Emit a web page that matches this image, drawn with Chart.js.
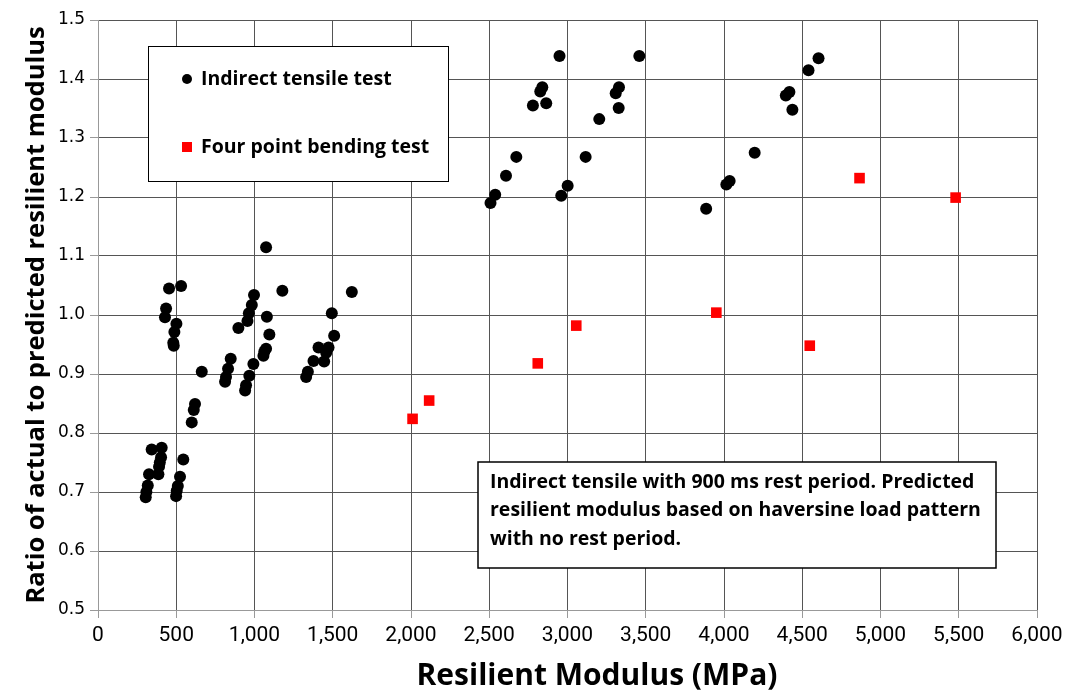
<!DOCTYPE html>
<html>
<head>
<meta charset="utf-8">
<script src="https://cdn.jsdelivr.net/npm/chart.js@4.4.1/dist/chart.umd.min.js"></script>
<style>
html, body { margin: 0; padding: 0; background: #fff; }
</style>
</head>
<body>
<canvas id="modulusChart" width="1069" height="694"></canvas>
<script>
// Indirect tensile test points (resilient modulus MPa, ratio)
var itModulus = [454, 531, 435, 428, 501, 488, 481, 484, 1074, 1178, 1622, 997, 983, 964, 955, 897,
    1079, 1095, 1074, 1063, 1057, 848, 831, 818, 812, 993, 967, 946, 940, 1494, 1509, 1409, 1473,
    1458, 1445, 1377, 1341, 1330, 663, 620, 612, 599, 343, 407, 403, 390, 386, 326, 545, 524, 510,
    503, 499, 318, 309, 305, 395,
    2949, 3459, 2839, 2826, 2779, 2864, 3329, 3308, 3327, 3203, 2673, 2607, 2538, 2508, 3116, 3001,
    2960, 4604, 4540, 4418, 4395, 4437, 4196, 4036, 4015, 3886];
var itRatio = [1.045, 1.049, 1.011, 0.996, 0.985, 0.971, 0.953, 0.948, 1.115, 1.041, 1.039, 1.034,
    1.017, 1.003, 0.990, 0.978, 0.997, 0.967, 0.943, 0.938, 0.931, 0.926, 0.909, 0.895, 0.887, 0.917,
    0.897, 0.881, 0.872, 1.003, 0.965, 0.945, 0.945, 0.936, 0.921, 0.922, 0.904, 0.895, 0.904, 0.849,
    0.839, 0.818, 0.772, 0.775, 0.759, 0.743, 0.730, 0.730, 0.755, 0.726, 0.710, 0.702, 0.693, 0.711,
    0.700, 0.691, 0.750,
    1.439, 1.439, 1.386, 1.379, 1.355, 1.359, 1.386, 1.376, 1.351, 1.332, 1.268, 1.236, 1.204, 1.190,
    1.268, 1.219, 1.202, 1.435, 1.415, 1.378, 1.372, 1.348, 1.275, 1.227, 1.221, 1.180];

// Four point bending test points
var fpModulus = [2010, 2116, 2810, 3056, 3951, 4548, 4866, 5480];
var fpRatio = [0.824, 0.855, 0.918, 0.982, 1.004, 0.948, 1.232, 1.199];

var seriesNames = ['Indirect tensile test', 'Four point bending test'];
var xTitle = 'Resilient Modulus (MPa)';
var yTitle = 'Ratio of actual to predicted resilient modulus';
var noteLines = ['Indirect tensile with 900 ms rest period. Predicted',
    'resilient modulus based on haversine load pattern',
    'with no rest period.'];

function toPoints(xs, ys) {
    return xs.map(function(x, i) { return { x: x, y: ys[i] }; });
}

var boldFont = '"Open Sans", "DejaVu Sans", sans-serif';
var gridColor = '#555';

// draws the x title, the boxed legend and the note box
var boxesPlugin = {
    id: 'boxes',
    afterDraw: function(chart) {
        var ctx = chart.ctx;
        ctx.save();
        // x axis title (sits a bit right of the plot centre in the original)
        ctx.fillStyle = '#000';
        ctx.font = 'bold 30px ' + boldFont;
        ctx.textAlign = 'center';
        ctx.textBaseline = 'middle';
        ctx.fillText(xTitle, 597, 676);

        // legend box
        ctx.fillStyle = '#fff';
        ctx.fillRect(148, 46, 300, 135);
        ctx.strokeStyle = '#000';
        ctx.lineWidth = 1;
        ctx.strokeRect(148.5, 46.5, 300, 135);

        var ds = chart.data.datasets;
        ctx.fillStyle = ds[0].backgroundColor;
        ctx.beginPath();
        ctx.arc(187, 79, 5, 0, Math.PI * 2);
        ctx.fill();
        ctx.fillStyle = ds[1].backgroundColor;
        ctx.fillRect(182, 142, 10, 10);

        ctx.fillStyle = '#000';
        ctx.font = 'bold 19.5px ' + boldFont;
        ctx.textAlign = 'left';
        ctx.fillText(ds[0].label, 201, 79);
        ctx.fillText(ds[1].label, 201, 147);

        // note box
        ctx.fillStyle = '#fff';
        ctx.fillRect(478, 462, 518, 106);
        ctx.lineWidth = 1.5;
        ctx.strokeRect(478, 462, 518, 106);
        ctx.fillStyle = '#000';
        noteLines.forEach(function(line, i) {
            ctx.fillText(line, 490, 482 + i * 28.5);
        });
        ctx.restore();
    }
};

var ctx = document.getElementById('modulusChart').getContext('2d');
var modulusChart = new Chart(ctx, {
    type: 'scatter',
    data: {
        datasets: [{
            label: seriesNames[0],
            data: toPoints(itModulus, itRatio),
            backgroundColor: '#000',
            borderColor: '#000',
            pointStyle: 'circle',
            pointRadius: 6,
            borderWidth: 0
        }, {
            label: seriesNames[1],
            data: toPoints(fpModulus, fpRatio),
            backgroundColor: '#ff0000',
            borderColor: '#ff0000',
            pointStyle: 'rect',
            pointRadius: 7.5,
            borderWidth: 0
        }]
    },
    options: {
        responsive: false,
        animation: false,
        layout: { padding: { top: 20, right: 32, left: 0, bottom: 0 } },
        plugins: {
            legend: { display: false },
            tooltip: { enabled: false }
        },
        scales: {
            x: {
                type: 'linear',
                min: 0,
                max: 6000,
                afterFit: function(s) { s.height = 84; },
                ticks: {
                    stepSize: 500,
                    padding: 5,
                    color: '#000',
                    font: { family: 'Roboto, sans-serif', size: 21 },
                    callback: function(v) { return v.toLocaleString('en-US'); }
                },
                grid: { color: gridColor, tickLength: 8, tickColor: '#999' },
                border: { color: '#999' }
            },
            y: {
                min: 0.5,
                max: 1.5,
                afterFit: function(s) { s.width = 98; },
                ticks: {
                    stepSize: 0.1,
                    padding: 5,
                    color: '#000',
                    font: { family: '"DejaVu Sans", sans-serif', size: 17 },
                    callback: function(v) { return v.toFixed(1); }
                },
                grid: { color: gridColor, tickLength: 8, tickColor: '#999' },
                border: { color: '#999' },
                title: {
                    display: true,
                    text: yTitle,
                    color: '#000',
                    font: { family: boldFont, size: 25.5, weight: 'bold' },
                    padding: { top: 21, bottom: 0 }
                }
            }
        }
    },
    plugins: [boxesPlugin]
});
</script>
</body>
</html>
